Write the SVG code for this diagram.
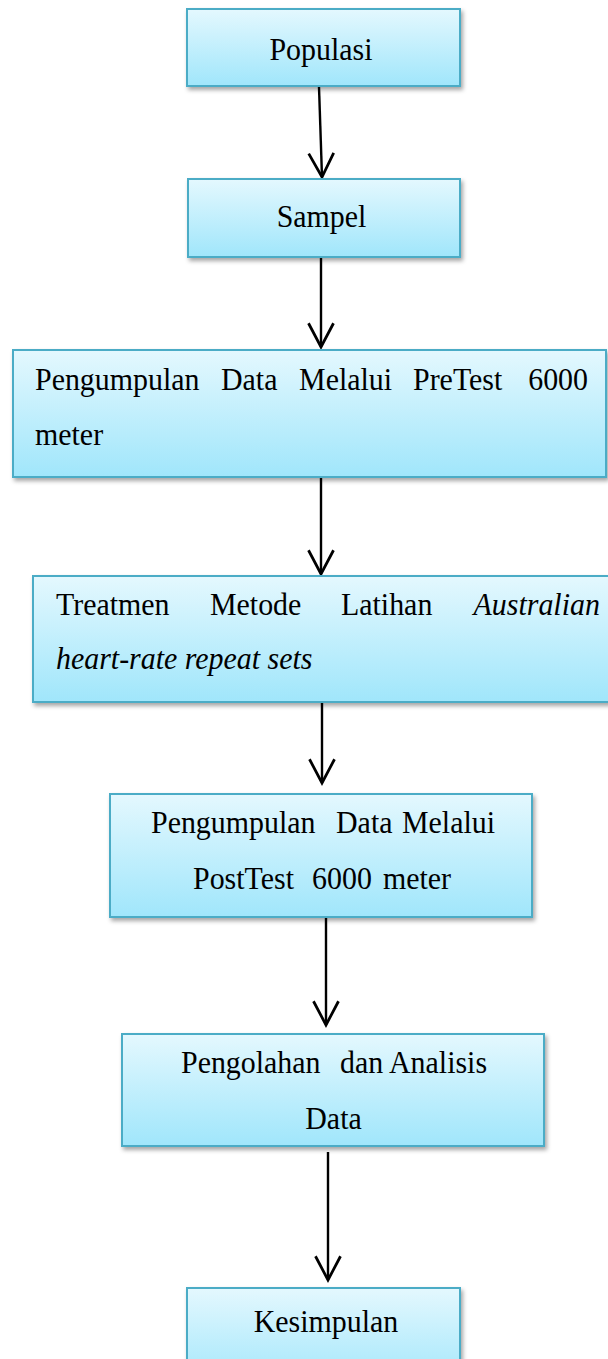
<svg xmlns="http://www.w3.org/2000/svg" width="608" height="1359" viewBox="0 0 608 1359">
<defs>
<linearGradient id="g" x1="0" y1="0" x2="0" y2="1">
<stop offset="0" stop-color="#e4f8fe"/>
<stop offset="1" stop-color="#a0e6fb"/>
</linearGradient>
<filter id="sh" x="-10%" y="-10%" width="130%" height="140%">
<feDropShadow dx="2" dy="3" stdDeviation="2" flood-color="#000" flood-opacity="0.35"/>
</filter>
<marker id="ah" markerUnits="userSpaceOnUse" markerWidth="30" markerHeight="30" refX="0" refY="0" viewBox="-22 -12 24 24" orient="auto">
<path d="M-19,-10 L0,0 L-19,10" fill="none" stroke="#000" stroke-width="2.2"/>
</marker>
<style>
.box{fill:url(#g);stroke:#4bacc6;stroke-width:2;filter:url(#sh)}
.t{font-family:"Liberation Serif","Times New Roman",serif;font-size:32px;fill:#000}
.i{font-style:italic}
.c{fill:none;stroke:#000;stroke-width:2.4;marker-end:url(#ah)}
</style>
</defs>
<g id="connectors">
<line class="c" x1="319" y1="87" x2="322" y2="177"/>
<line class="c" x1="321" y1="258" x2="321" y2="347"/>
<line class="c" x1="321" y1="478" x2="321" y2="574"/>
<line class="c" x1="322" y1="703" x2="322" y2="783"/>
<line class="c" x1="326" y1="918" x2="326" y2="1025"/>
<line class="c" x1="328" y1="1152" x2="328" y2="1280"/>
</g>
<g id="populasi">
<rect class="box" x="187" y="9" width="273" height="77"/>
<text class="t" transform="translate(321 0) scale(0.935 1)" x="0" y="60" text-anchor="middle">Populasi</text>
</g>
<g id="sampel">
<rect class="box" x="188" y="179" width="272" height="78"/>
<text class="t" transform="translate(321.5 0) scale(0.935 1)" x="0" y="227" text-anchor="middle">Sampel</text>
</g>
<g id="pretest">
<rect class="box" x="13" y="350" width="593" height="127"/>
<text class="t" transform="translate(35 0) scale(0.935 1)" y="390"><tspan x="0">Pengumpulan</tspan><tspan x="198.9">Data</tspan><tspan x="282.4">Melalui</tspan><tspan x="404.3">PreTest</tspan><tspan x="527.5">6000</tspan></text>
<text class="t" transform="translate(35 0) scale(0.935 1)" x="0" y="445">meter</text>
</g>
<g id="treatmen">
<rect class="box" x="33" y="576" width="600" height="126"/>
<text class="t" transform="translate(56 0) scale(0.935 1)" y="615"><tspan x="0">Treatmen</tspan><tspan x="164.7">Metode</tspan><tspan x="304.8">Latihan</tspan><tspan class="i" x="446.6">Australian</tspan></text>
<text class="t i" transform="translate(56 0) scale(0.935 1)" x="0" y="669">heart-rate repeat sets</text>
</g>
<g id="posttest">
<rect class="box" x="110" y="794" width="422" height="123"/>
<text class="t" transform="translate(151 0) scale(0.935 1)" y="833"><tspan x="0">Pengumpulan</tspan><tspan x="197.9">Data</tspan><tspan x="268.4">Melalui</tspan></text>
<text class="t" transform="translate(193 0) scale(0.935 1)" y="889"><tspan x="0">PostTest</tspan><tspan x="127.3">6000</tspan><tspan x="203.2">meter</tspan></text>
</g>
<g id="pengolahan">
<rect class="box" x="122" y="1034" width="422" height="112"/>
<text class="t" transform="translate(181 0) scale(0.935 1)" y="1073"><tspan x="0">Pengolahan</tspan><tspan x="170.1">dan</tspan><tspan x="222.5">Analisis</tspan></text>
<text class="t" transform="translate(333.5 0) scale(0.935 1)" x="0" y="1129" text-anchor="middle">Data</text>
</g>
<g id="kesimpulan">
<rect class="box" x="187" y="1288" width="273" height="100"/>
<text class="t" transform="translate(326 0) scale(0.935 1)" x="0" y="1332" text-anchor="middle">Kesimpulan</text>
</g>
</svg>
